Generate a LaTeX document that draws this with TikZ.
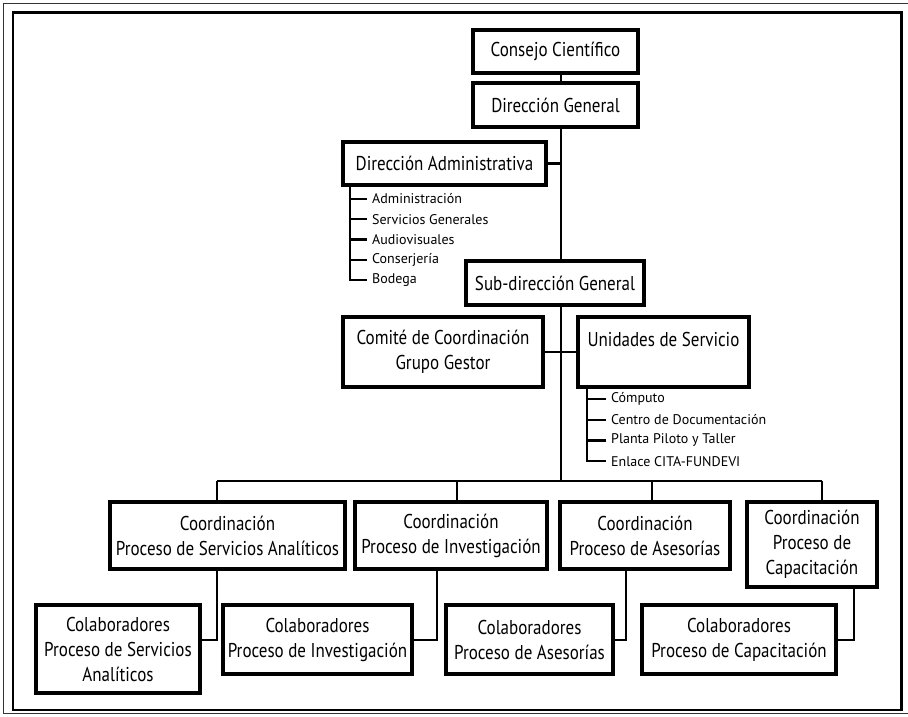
\documentclass[tikz,border=0pt]{standalone}
\usepackage{fontspec}
\setmainfont{PT Sans}
\newfontfamily\boxfont[FakeStretch=0.85]{PT Sans}
\usepackage{tikz}
\usetikzlibrary{positioning,calc}

\tikzset{
  unitbox/.style={draw, line width=3.4pt, align=center, inner sep=2pt,
    font=\boxfont\fontsize{20}{25}\selectfont},
  link/.style={line width=2.2pt},
  subitem/.style={anchor=west, inner xsep=5pt, inner ysep=0pt,
    font=\fontsize{14}{16}\selectfont},
}

\begin{document}
\begin{tikzpicture}[x=1pt,y=-1pt]
				\useasboundingbox (0,0) rectangle (908,716);
				\draw [line width=1.5pt, black!80] (3.5,3.5) rectangle (912,713.5);
				\draw [line width=2.5pt] (13,12.5) rectangle (901.5,710);
				\node[unitbox, minimum width=165pt, minimum height=43pt] (consejo) at (555.5,51.5) {Consejo Científico};
				\node[unitbox, minimum width=165pt, minimum height=44pt] (dirgen) at (555.5,105) {Dirección General};
				\node[unitbox, minimum width=203pt, minimum height=43pt] (diradm) at (444.5,163.5) {Dirección Administrativa};
				\node[unitbox, minimum width=178pt, minimum height=44pt] (subdir) at (555,283) {Sub-dirección General};
				\node[unitbox, minimum width=200pt, minimum height=70pt] (comite) at (443,352) {Comité de Coordinación\\Grupo Gestor};
				\node[unitbox, minimum width=171pt, minimum height=70pt] (unidades) at (663.5,352) {Unidades de Servicio\\\mbox{}};
				\node[unitbox, minimum width=235pt, minimum height=67pt] (coord1) at (227.5,535.5) {Coordinación\\Proceso de Servicios Analíticos};
				\node[unitbox, minimum width=192pt, minimum height=67pt] (coord2) at (451,535.5) {Coordinación\\Proceso de Investigación};
				\node[unitbox, minimum width=170pt, minimum height=67pt] (coord3) at (645,535.5) {Coordinación\\Proceso de Asesorías};
				\node[unitbox, minimum width=130pt, minimum height=85pt] (coord4) at (812,544.5) {Coordinación\\Proceso de\\Capacitación};
				\node[unitbox, minimum width=164pt, minimum height=88pt] (colab1) at (118,649) {Colaboradores\\Proceso de Servicios\\Analíticos};
				\node[unitbox, minimum width=189pt, minimum height=69pt] (colab2) at (317.5,639.5) {Colaboradores\\Proceso de Investigación};
				\node[unitbox, minimum width=167pt, minimum height=69pt] (colab3) at (529.5,639.5) {Colaboradores\\Proceso de Asesorías};
				\node[unitbox, minimum width=194pt, minimum height=69pt] (colab4) at (739,639.5) {Colaboradores\\Proceso de Capacitación};
				\coordinate (spine) at (561,0);
				\coordinate (bus) at (561,481);
				\coordinate (admbar) at (350,0);
				\coordinate (unibar) at (587,0);
				\coordinate (d1) at (217,481);
				\coordinate (d2) at (457,481);
				\coordinate (d3) at (652,481);
				\coordinate (d4) at (822,481);
				\coordinate (k1) at (217,640);
				\coordinate (k2) at (437,640);
				\coordinate (k3) at (626,640);
				\coordinate (k4) at (854,640);
				\draw[link] (consejo.south -| spine) -- (dirgen.north -| spine);
				\draw[link] (dirgen.south -| spine) -- (subdir.north -| spine);
				\draw[link] (diradm.east) -- (diradm.east -| spine);
				\draw[link] (subdir.south -| spine) -- (bus);
				\draw[link] (comite.east) -- (unidades.west);
				\foreach \t [count=\i] in {Administración, Servicios Generales, Audiovisuales, Conserjería, Bodega}
				{
					\node[subitem] (adm\i) at (367,{199+(\i-1)*20.25}) {\t};
					\draw[link] (diradm.south -| admbar) |- (adm\i.west);
				}
				\foreach \t [count=\i] in {Cómputo, Centro de Documentación, Planta Piloto y Taller, Enlace CITA-FUNDEVI}
				{
					\node[subitem] (uni\i) at (606,{399+(\i-1)*20.7}) {\t};
					\draw[link] (unidades.south -| unibar) |- (uni\i.west);
				}
				\draw[link] (d1) -- (d4);
				\foreach \i in {1,...,4}
				{
					\draw[link] (d\i) -- (d\i |- coord\i.north);
					\draw[link] (k\i |- coord\i.south) -- (k\i) -- (k\i -| colab\i.east);
				}
\end{tikzpicture}
\end{document}
